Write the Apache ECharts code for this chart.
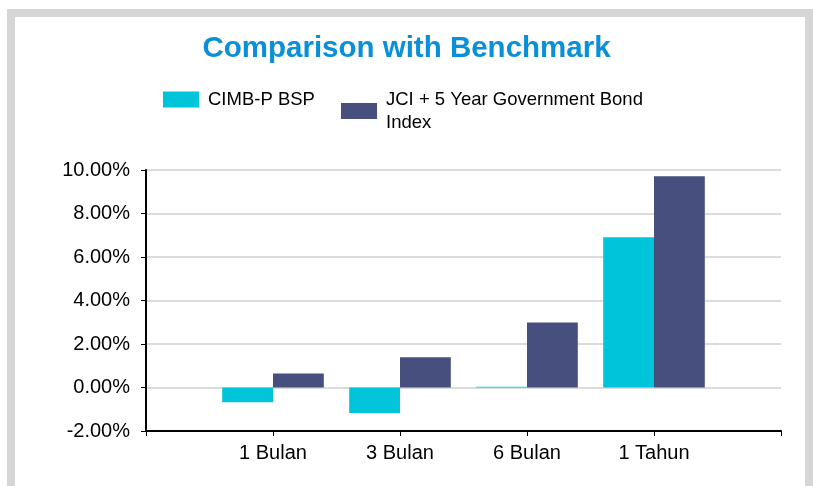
<!DOCTYPE html>
<html>
<head>
<meta charset="utf-8">
<title>Comparison with Benchmark</title>
<script src="https://cdn.jsdelivr.net/npm/echarts@6/dist/echarts.min.js"></script>
<style>
  html, body { margin: 0; padding: 0; background: #ffffff; overflow: hidden; }
  #frame {
    position: absolute; left: 7px; top: 9px; width: 806px; height: 600px;
    box-sizing: border-box; border: 8px solid #d6d6d6; border-bottom: none;
  }
  #chart { position: absolute; left: 0; top: 0; width: 813px; height: 486px; }
</style>
</head>
<body>
<div id="frame"></div>
<div id="chart"></div>
<script>
  // categories and values (percent)
  var periods = ['1 Bulan', '3 Bulan', '6 Bulan', '1 Tahun'];
  var fundName = 'CIMB-P BSP';
  var benchName = 'JCI + 5 Year Government Bond\nIndex';
  var fundReturns = [-0.68, -1.17, 0.03, 6.91];
  var benchReturns = [0.64, 1.39, 2.99, 9.71];
  var yTicks = [-2, 0, 2, 4, 6, 8, 10];

  var font = '"Liberation Sans", Arial, sans-serif';

  // empty slot on each side, bars sit on the ticks like the excel chart
  var axisCats = [''].concat(periods, ['']);
  function pad(arr) { return [null].concat(arr, [null]); }

  var chart = echarts.init(document.getElementById('chart'), null, {renderer: 'canvas'});

  var legendText = {
    fontFamily: font,
    fontSize: 18.5,
    color: '#000',
    lineHeight: 23,
    padding: [0, 0, 0, 4]
  };

  chart.setOption({
    backgroundColor: 'transparent',
    animation: false,
    title: {
      text: 'Comparison with Benchmark',
      left: 'center',
      top: 29,
      textStyle: {
        fontFamily: font,
        fontSize: 29.5,
        fontWeight: 'bold',
        color: '#0a8fd9'
      }
    },
    legend: [{
      data: [fundName],
      left: 163,
      top: 88,
      padding: 0,
      itemWidth: 36,
      itemHeight: 16,
      icon: 'rect',
      textStyle: legendText
    }, {
      data: [benchName],
      left: 341,
      top: 88,
      padding: 0,
      itemWidth: 36,
      itemHeight: 16,
      icon: 'rect',
      textStyle: legendText
    }],
    grid: {
      left: 146,
      right: 32,
      top: 170,
      bottom: 55,
      containLabel: false
    },
    xAxis: {
      type: 'category',
      data: axisCats,
      boundaryGap: false,
      axisLine: {onZero: false, lineStyle: {color: '#000', width: 2}},
      axisTick: {show: true, length: 5, alignWithLabel: true, lineStyle: {color: '#000', width: 1}},
      axisLabel: {
        margin: 12,
        fontFamily: font,
        fontSize: 20,
        color: '#000',
        interval: 0
      },
      splitLine: {show: false}
    },
    yAxis: {
      type: 'value',
      min: yTicks[0],
      max: yTicks[yTicks.length - 1],
      interval: 2,
      axisLine: {show: true, lineStyle: {color: '#000', width: 2}},
      axisTick: {show: true, length: 5, lineStyle: {color: '#000', width: 1}},
      axisLabel: {
        margin: 16,
        fontFamily: font,
        fontSize: 20,
        color: '#000',
        formatter: function (v) { return v.toFixed(2) + '%'; }
      },
      splitLine: {show: true, lineStyle: {color: '#dcdcdc', width: 2}}
    },
    series: [{
      name: fundName,
      type: 'bar',
      data: pad(fundReturns),
      barGap: '0%',
      barCategoryGap: '20%',
      itemStyle: {color: '#00c4da'}
    }, {
      name: benchName,
      type: 'bar',
      data: pad(benchReturns),
      barGap: '0%',
      barCategoryGap: '20%',
      itemStyle: {color: '#464f7d'}
    }]
  });
</script>
</body>
</html>
